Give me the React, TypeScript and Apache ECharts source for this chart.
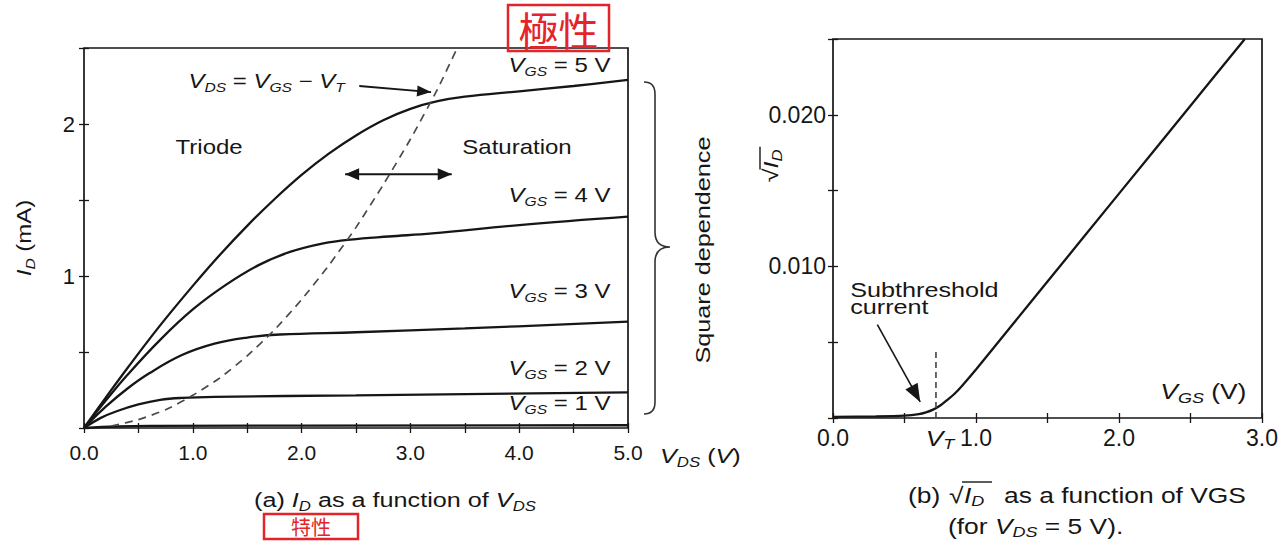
import React, { useEffect, useRef } from "react";
import * as echarts from "echarts";

// ---------- (a) I_D (mA) versus V_DS (V) ----------
const vgs5Curve: number[][] = [[0, 0], [0.2, 0.2], [0.4, 0.395], [0.7, 0.675], [1.0, 0.935], [1.25, 1.14], [1.5, 1.33], [1.75, 1.505], [2.0, 1.665], [2.25, 1.805], [2.5, 1.925], [2.75, 2.025], [3.0, 2.1], [3.25, 2.15], [3.5, 2.18], [4.0, 2.215], [4.5, 2.25], [5.0, 2.29]];
const vgs4Curve: number[][] = [[0, 0], [0.2, 0.18], [0.4, 0.35], [0.7, 0.58], [1.0, 0.78], [1.3, 0.94], [1.6, 1.07], [1.9, 1.16], [2.2, 1.215], [2.45, 1.24], [2.8, 1.26], [3.2, 1.28], [4.0, 1.335], [5.0, 1.39]];
const vgs3Curve: number[][] = [[0, 0], [0.2, 0.14], [0.4, 0.26], [0.6, 0.36], [0.9, 0.48], [1.2, 0.555], [1.5, 0.595], [1.8, 0.615], [2.5, 0.63], [3.5, 0.655], [5.0, 0.7]];
const vgs2Curve: number[][] = [[0, 0], [0.15, 0.065], [0.3, 0.11], [0.5, 0.155], [0.7, 0.185], [0.9, 0.198], [1.2, 0.205], [2.5, 0.215], [5.0, 0.235]];
const vgs1Curve: number[][] = [[0, 0], [0.3, 0.01], [0.6, 0.014], [5.0, 0.018]];
const satBoundary: number[][] = [[0.25, 0.013], [0.5, 0.055], [0.75, 0.12], [1.0, 0.215], [1.25, 0.33], [1.5, 0.475], [1.75, 0.645], [2.0, 0.845], [2.25, 1.07], [2.5, 1.32], [2.75, 1.6], [3.0, 1.9], [3.25, 2.23], [3.43, 2.5]];
const vgsValues = ["5", "4", "3", "2", "1"];

// ---------- (b) sqrt(I_D) versus V_GS (V_DS = 5 V) ----------
const sqrtIdCurve: number[][] = [[0, 0.00008], [0.3, 0.0001], [0.5, 0.00015], [0.6, 0.00025], [0.65, 0.00037], [0.7, 0.00055], [0.75, 0.00082], [0.8, 0.0012], [0.85, 0.0016], [0.9, 0.0021], [1.0, 0.0032], [1.25, 0.0061], [1.5, 0.009], [2.0, 0.0148], [2.5, 0.0206], [2.88, 0.025]];
const VT = 0.72;
const vtMarkerTop = 0.0045;

// ---------- axes ----------
const vdsRange = [0, 5];
const idRange = [0, 2.5];
const vgsRange = [0, 3];
const sqrtRange = [0, 0.025];

const FONT = "'Liberation Sans', Arial, Helvetica, sans-serif";
const INK = "#161616";
const RED = "#e3242b";
const SX = 1.2;

function rich(size: number) {
  const sub = Math.round(size * 0.66);
  return {
    n: { fontSize: size, fontFamily: FONT, color: INK, lineHeight: size + 6, verticalAlign: "middle" },
    v: { fontSize: size, fontFamily: FONT, fontStyle: "italic", color: INK, lineHeight: size + 6, verticalAlign: "middle" },
    s: { fontSize: sub, fontFamily: FONT, fontStyle: "italic", color: INK, lineHeight: sub, verticalAlign: "bottom" },
  };
}

function txt(x: number, y: number, text: string, size: number, extra: any = {}) {
  const { style, ...rest } = extra;
  return {
    type: "text",
    x,
    y,
    scaleX: SX,
    silent: true,
    style: {
      text,
      rich: rich(size),
      fontSize: size,
      fontFamily: FONT,
      fill: INK,
      align: "center",
      verticalAlign: "middle",
      ...(style || {}),
    },
    ...rest,
  };
}

function arrowHead(x1: number, y1: number, x2: number, y2: number, L = 13, W = 5) {
  const dx = x2 - x1, dy = y2 - y1;
  const len = Math.hypot(dx, dy) || 1;
  const ux = dx / len, uy = dy / len;
  const nx = -uy, ny = ux;
  return {
    type: "polygon",
    silent: true,
    shape: { points: [[x2, y2], [x2 - L * ux + W * nx, y2 - L * uy + W * ny], [x2 - L * ux - W * nx, y2 - L * uy - W * ny]] },
    style: { fill: INK },
  };
}

function arrow(a: number[], b: number[], both = false, L = 13, W = 5, lw = 1.8) {
  const out: any[] = [
    { type: "line", silent: true, shape: { x1: a[0], y1: a[1], x2: b[0], y2: b[1] }, style: { stroke: INK, lineWidth: lw } },
    arrowHead(a[0], a[1], b[0], b[1], L, W),
  ];
  if (both) out.push(arrowHead(b[0], b[1], a[0], a[1], L, W));
  return out;
}

export default function App() {
  const ref = useRef<HTMLDivElement>(null);

  useEffect(() => {
    const el = ref.current;
    if (!el) return;
    const chart = echarts.init(el, null, { renderer: "svg" });

    echarts.graphic.registerShape(
      "brace",
      echarts.graphic.extendPath(
        "M0 0 C7 0 11 3 11 12 L11 150 C11 160 16 165 26 165 C16 165 11 170 11 180 L11 320 C11 329 7 332 0 332",
        {}
      )
    );

    const tick = { show: true, inside: true, length: 5, lineStyle: { color: INK, width: 1.3 } };
    const fmt1 = (v: number) => (Math.abs(v - Math.round(v)) < 1e-9 ? v.toFixed(1) : "");
    const base = { type: "value", axisLine: { show: false }, splitLine: { show: false }, axisTick: tick };

    const curve = (data: number[][], ax: number, extra: any = {}) => ({
      type: "line",
      xAxisIndex: ax,
      yAxisIndex: ax,
      data,
      showSymbol: false,
      smooth: 0.4,
      silent: true,
      lineStyle: { color: INK, width: 2.3 },
      z: 3,
      ...extra,
    });

    const option: any = {
      animation: false,
      backgroundColor: "#ffffff",
      grid: [
        { left: 84, top: 48, width: 544, height: 380, show: true, borderColor: INK, borderWidth: 1.7 },
        { left: 833, top: 39, width: 429, height: 379, show: true, borderColor: INK, borderWidth: 1.7 },
      ],
      xAxis: [
        { ...base, gridIndex: 0, min: vdsRange[0], max: vdsRange[1], interval: 0.5, position: "bottom",
          axisLabel: { formatter: fmt1, fontSize: 21, color: INK, fontFamily: FONT, margin: 14 } },
        { ...base, gridIndex: 0, min: vdsRange[0], max: vdsRange[1], interval: 0.5, position: "top", axisLabel: { show: false } },
        { ...base, gridIndex: 1, min: vgsRange[0], max: vgsRange[1], interval: 0.5, position: "bottom",
          axisLabel: { formatter: fmt1, fontSize: 23, color: INK, fontFamily: FONT, margin: 8 } },
        { ...base, gridIndex: 1, min: vgsRange[0], max: vgsRange[1], interval: 0.5, position: "top", axisLabel: { show: false } },
      ],
      yAxis: [
        { ...base, gridIndex: 0, min: idRange[0], max: idRange[1], interval: 0.5, position: "left",
          axisLabel: { formatter: (v: number) => (v > 0 && Math.abs(v - Math.round(v)) < 1e-9 ? String(v) : ""), fontSize: 22, color: INK, fontFamily: FONT, margin: 9 } },
        { ...base, gridIndex: 0, min: idRange[0], max: idRange[1], interval: 0.5, position: "right", axisLabel: { show: false } },
        { ...base, gridIndex: 1, min: sqrtRange[0], max: sqrtRange[1], interval: 0.005, position: "left",
          axisLabel: { formatter: (v: number) => (Math.abs(v - 0.01) < 1e-9 || Math.abs(v - 0.02) < 1e-9 ? v.toFixed(3) : ""), fontSize: 23, color: INK, fontFamily: FONT, margin: 7, padding: [10, 0, 0, 0] } },
        { ...base, gridIndex: 1, min: sqrtRange[0], max: sqrtRange[1], interval: 0.005, position: "right", axisLabel: { show: false } },
      ],
      series: [
        curve(vgs5Curve, 0),
        curve(vgs4Curve, 0),
        curve(vgs3Curve, 0),
        curve(vgs2Curve, 0),
        curve(vgs1Curve, 0),
        curve(satBoundary, 0, { smooth: 0.2, lineStyle: { color: "#4a4a4a", width: 1.7, type: [8, 6] } }),
        curve(sqrtIdCurve, 2, { smooth: 0.3 }),
        curve([[VT, 0], [VT, vtMarkerTop]], 2, { smooth: false, lineStyle: { color: "#444", width: 1.6, type: [6, 4] } }),
      ],
    };

    chart.setOption(option);

    const pA = (x: number, y: number) => chart.convertToPixel({ seriesIndex: 0 }, [x, y]) as number[];
    const pB = (x: number, y: number) => chart.convertToPixel({ seriesIndex: 6 }, [x, y]) as number[];

    const g: any[] = [];

    // --- panel (a) annotations ---
    const labelIds = [2.39, 1.53, 0.9, 0.395, 0.165];
    vgsValues.forEach((val, i) => {
      const p = pA(4.37, labelIds[i]);
      g.push(txt(p[0], p[1], `{v|V}{s|GS}{n| = ${val} V}`, 20));
    });
    {
      const p = pA(1.15, 1.85);
      g.push(txt(p[0], p[1], "{n|Triode}", 20));
      const q = pA(3.98, 1.85);
      g.push(txt(q[0], q[1], "{n|Saturation}", 20));
      const r = pA(0.96, 2.28);
      g.push(txt(r[0], r[1], "{v|V}{s|DS}{n| = }{v|V}{s|GS}{n| − }{v|V}{s|T}", 20, { style: { align: "left" } }));
      g.push(...arrow(pA(2.53, 2.25), pA(3.19, 2.21), false, 14, 5.5, 1.8));
      g.push(...arrow(pA(2.4, 1.67), pA(3.38, 1.67), true, 14, 6, 2));
    }
    // brace + Square dependence
    g.push({ type: "brace", x: 644, y: 82, silent: true, style: { fill: "none", stroke: "#333", lineWidth: 1.6 } });
    g.push(txt(703, 250, "{n|Square dependence}", 21, { rotation: Math.PI / 2 }));
    // axis names
    g.push(txt(24, 238, "{v|I}{s|D}{n| (mA)}", 20, { rotation: Math.PI / 2 }));
    g.push(txt(660, 456, "{v|V}{s|DS}{n| (}{v|V}{n|)}", 21, { style: { align: "left" } }));
    // caption (a)
    g.push(txt(395, 500, "{n|(a) }{v|I}{s|D}{n| as a function of }{v|V}{s|DS}", 21));

    // --- panel (b) annotations ---
    {
      const s1 = pB(0.12, 0.00844);
      g.push(txt(s1[0], s1[1], "{n|Subthreshold}", 21, { style: { align: "left" } }));
      const s2 = pB(0.12, 0.00735);
      g.push(txt(s2[0], s2[1], "{n|current}", 21, { style: { align: "left" } }));
      g.push(...arrow(pB(0.31, 0.00616), pB(0.61, 0.00106), false, 18, 7, 1.6));
      const vg = pB(2.59, 0.00178);
      g.push(txt(vg[0], vg[1], "{v|V}{s|GS}{n| (V)}", 22));
      const vt = pB(VT, 0);
      g.push(txt(vt[0] + 4, vt[1] + 20, "{v|V}{s|T}", 22));
    }
    // sqrt(I_D) axis name (rotated)
    g.push({
      type: "group",
      x: 771,
      y: 166,
      rotation: Math.PI / 2,
      scaleX: SX,
      silent: true,
      children: [
        { type: "text", x: -2, y: 0, style: { text: "√", fontSize: 21, fontFamily: FONT, fill: INK, align: "right", verticalAlign: "middle" } },
        { type: "text", x: -2, y: 0, style: { text: "{v|I}{s|D}", rich: rich(21), fontSize: 21, fontFamily: FONT, fill: INK, align: "left", verticalAlign: "middle" } },
        { type: "line", shape: { x1: -3, y1: -11, x2: 16, y2: -11 }, style: { stroke: INK, lineWidth: 1.4 } },
      ],
    });
    // caption (b)
    g.push(txt(908, 495, "{n|(b)}", 22, { style: { align: "left" } }));
    g.push(txt(949, 495, "{n|√}", 22, { style: { align: "left" } }));
    g.push(txt(964, 495, "{v|I}{s|D}", 22, { style: { align: "left" } }));
    g.push({ type: "line", silent: true, shape: { x1: 962, y1: 482, x2: 992, y2: 482 }, style: { stroke: INK, lineWidth: 1.4 } });
    g.push(txt(1004, 495, "{n|as a function of VGS}", 22, { style: { align: "left" } }));
    g.push(txt(948, 526, "{n|(for }{v|V}{s|DS}{n| = 5 V).}", 22, { style: { align: "left" } }));

    // --- red handwritten-style boxes ---
    const cjk = "'Noto Sans CJK TC', 'Noto Sans CJK SC', sans-serif";
    g.push({ type: "rect", silent: true, shape: { x: 508, y: 5, width: 101, height: 46 }, style: { fill: "none", stroke: RED, lineWidth: 2.5 } });
    g.push({ type: "text", silent: true, x: 558.5, y: 29, style: { text: "極性", fontSize: 40, fontFamily: cjk, fill: RED, align: "center", verticalAlign: "middle" } });
    g.push({ type: "rect", silent: true, shape: { x: 264, y: 514, width: 94, height: 25 }, style: { fill: "none", stroke: RED, lineWidth: 2.5 } });
    g.push({ type: "text", silent: true, x: 311, y: 526, style: { text: "特性", fontSize: 20, fontFamily: cjk, fill: RED, align: "center", verticalAlign: "middle" } });

    chart.setOption({ graphic: { elements: g } });

    return () => {
      chart.dispose();
    };
  }, []);

  return (
    <div
      ref={ref}
      style={{ position: "fixed", left: 0, top: 0, width: 1283, height: 541, background: "#ffffff" }}
    />
  );
}
